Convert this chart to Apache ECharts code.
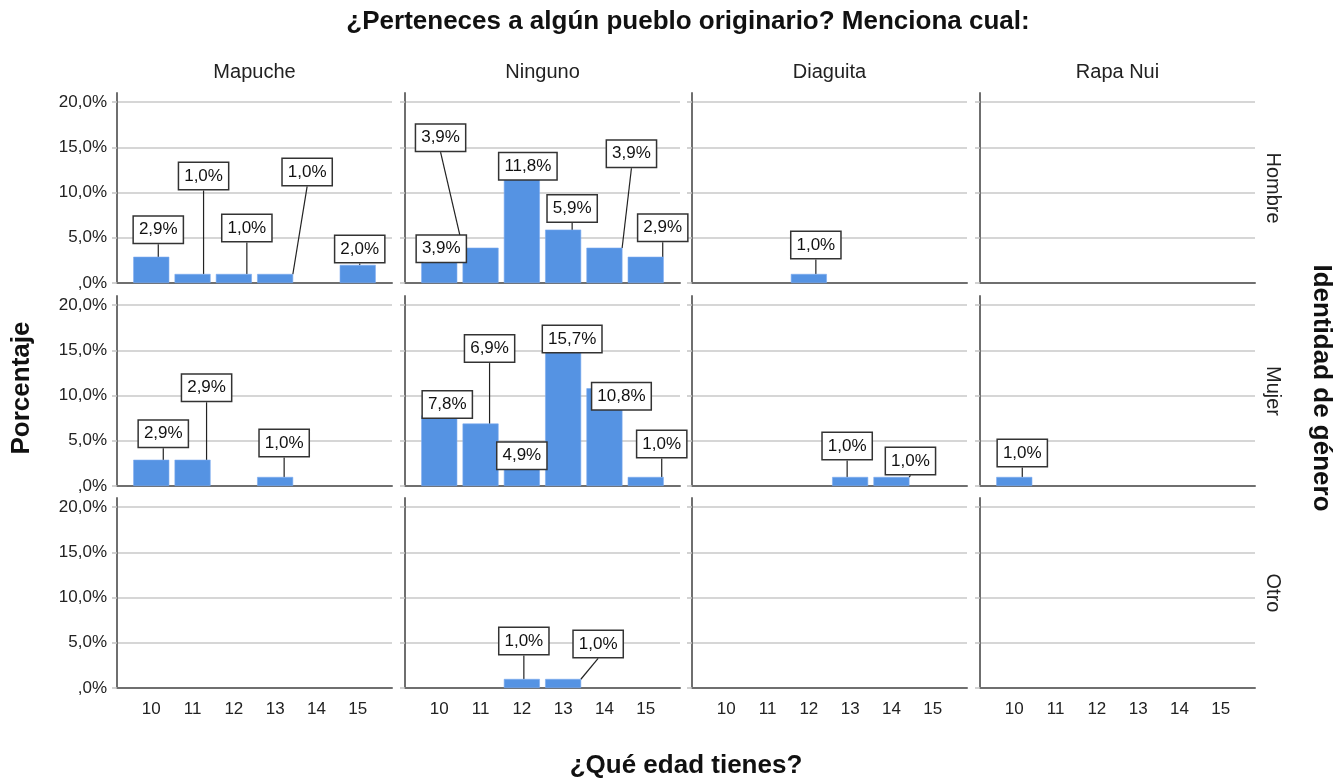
<!DOCTYPE html>
<html><head><meta charset="utf-8">
<script src="https://cdn.jsdelivr.net/npm/echarts@6/dist/echarts.min.js"></script>
<style>html,body{margin:0;padding:0;background:#fff}#c{width:1336px;height:781px}</style>
</head><body><div id="c"></div><script>
// ---- data ----
const ages = [10, 11, 12, 13, 14, 15];
const pueblos = ['Mapuche', 'Ninguno', 'Diaguita', 'Rapa Nui'];
const generos = ['Hombre', 'Mujer', 'Otro'];
const yTicks = [0, 5, 10, 15, 20];

const hombreMapuche  = [2.9, 1.0, 1.0, 1.0, null, 2.0];
const hombreNinguno  = [3.9, 3.9, 11.8, 5.9, 3.9, 2.9];
const hombreDiaguita = [null, null, 1.0, null, null, null];
const hombreRapaNui  = [null, null, null, null, null, null];
const mujerMapuche   = [2.9, 2.9, null, 1.0, null, null];
const mujerNinguno   = [7.8, 6.9, 4.9, 15.7, 10.8, 1.0];
const mujerDiaguita  = [null, null, null, 1.0, 1.0, null];
const mujerRapaNui   = [1.0, null, null, null, null, null];
const otroMapuche    = [null, null, null, null, null, null];
const otroNinguno    = [null, null, 1.0, 1.0, null, null];
const otroDiaguita   = [null, null, null, null, null, null];
const otroRapaNui    = [null, null, null, null, null, null];

const values = [
  [hombreMapuche, hombreNinguno, hombreDiaguita, hombreRapaNui],
  [mujerMapuche, mujerNinguno, mujerDiaguita, mujerRapaNui],
  [otroMapuche, otroNinguno, otroDiaguita, otroRapaNui]
];

// ---- layout (label box centre offset from bar top centre, px) ----
const labelOffsets = [
  [
    [[7,-27],[11,-98],[13,-46],[32,-102],null,[2,-16]],
    [[2,1],[-40,-110],[6,-10],[9,-21],[27,-94],[17,-29]],
    [null,null,[7,-29],null,null,null],
    [null,null,null,null,null,null]
  ],
  [
    [[12,-26],[14,-72],null,[9,-34],null,null],
    [[8,-11],[9,-75],[0,14],[9,-5],[17,8],[16,-33]],
    [null,null,null,[-3,-31],[19,-16],null],
    [[8,-24],null,null,null,null,null]
  ],
  [
    [null,null,null,null,null,null],
    [null,null,[2,-38],[35,-35],null,null],
    [null,null,null,null,null,null],
    [null,null,null,null,null,null]
  ]
];

const colLeft = [117, 405, 692, 980];
const colW = 275;
const rowTop = [93, 296, 498];
const rowH = 190;
const FONT = 'Liberation Sans, Arial, sans-serif';
const barColor = '#5593e3';

function pct(v) {
  return v === 0 ? ',0%' : v.toFixed(1).replace('.', ',') + '%';
}

const grid = [], xAxis = [], yAxis = [], series = [];
let idx = 0;
for (let r = 0; r < generos.length; r++) {
  for (let c = 0; c < pueblos.length; c++) {
    grid.push({left: colLeft[c], top: rowTop[r], width: colW, height: rowH, containLabel: false});
    xAxis.push({
      gridIndex: idx, type: 'value', min: 9.17, max: 15.83,
      axisLine: {show: true, onZero: false, lineStyle: {color: '#6f6f6f', width: 2}},
      axisTick: {show: false},
      splitLine: {show: false},
      axisLabel: {show: r === 2, customValues: ages, margin: 13, color: '#222',
        fontSize: 17, fontFamily: FONT, formatter: v => String(v)}
    });
    yAxis.push({
      gridIndex: idx, type: 'value', min: 0, max: 21,
      axisLine: {show: true, lineStyle: {color: '#6f6f6f', width: 2}},
      axisTick: {show: true, customValues: yTicks, length: 5, lineStyle: {color: '#c4c4c4', width: 1.5}},
      splitLine: {show: true, lineStyle: {color: '#c9c9c9', width: 1.5}},
      axisLabel: {show: c === 0, customValues: yTicks, margin: 10, color: '#222',
        fontSize: 17, fontFamily: FONT, formatter: v => pct(v)}
    });
    const vals = values[r][c];
    const offs = labelOffsets[r][c];
    const data = [], dataOffs = [];
    ages.forEach((a, i) => {
      if (vals[i] != null) { data.push([a, vals[i]]); dataOffs.push(offs[i] || [0, -20]); }
    });
    series.push({
      type: 'bar', xAxisIndex: idx, yAxisIndex: idx, data: data,
      barWidth: 36,
      itemStyle: {color: barColor, borderColor: '#7aaaf0', borderWidth: 0.6},
      label: {
        show: true, position: 'top',
        formatter: p => pct(p.value[1]),
        fontSize: 17, fontFamily: FONT, color: '#111',
        backgroundColor: '#fff', borderColor: '#333', borderWidth: 1.5,
        padding: [5, 5, 4, 5]
      },
      labelLine: {show: true, lineStyle: {color: '#222', width: 1.2}},
      labelLayout: function (p) {
        const o = dataOffs[p.dataIndex];
        return {
          x: p.rect.x + p.rect.width / 2 + o[0],
          y: p.rect.y + o[1],
          align: 'center', verticalAlign: 'middle'
        };
      },
      animation: false
    });
    idx++;
  }
}

const graphic = [];
graphic.push({type: 'text', x: 688, y: 22,
  style: {text: '¿Perteneces a algún pueblo originario? Menciona cual:', font: 'bold 26px ' + FONT, fill: '#111', align: 'center', verticalAlign: 'middle'}});
graphic.push({type: 'text', x: 686, y: 766,
  style: {text: '¿Qué edad tienes?', font: 'bold 26px ' + FONT, fill: '#111', align: 'center', verticalAlign: 'middle'}});
graphic.push({type: 'text', x: 22, y: 388, rotation: Math.PI / 2,
  style: {text: 'Porcentaje', font: 'bold 26px ' + FONT, fill: '#111', align: 'center', verticalAlign: 'middle'}});
graphic.push({type: 'text', x: 1321, y: 388, rotation: -Math.PI / 2,
  style: {text: 'Identidad de género', font: 'bold 26px ' + FONT, fill: '#111', align: 'center', verticalAlign: 'middle'}});
for (let c = 0; c < pueblos.length; c++) {
  graphic.push({type: 'text', x: colLeft[c] + colW / 2, y: 72,
    style: {text: pueblos[c], font: '20px ' + FONT, fill: '#222', align: 'center', verticalAlign: 'middle'}});
}
for (let r = 0; r < generos.length; r++) {
  graphic.push({type: 'text', x: 1273, y: rowTop[r] + rowH / 2, rotation: -Math.PI / 2,
    style: {text: generos[r], font: '20px ' + FONT, fill: '#222', align: 'center', verticalAlign: 'middle'}});
}

const chart = echarts.init(document.getElementById('c'), null, {renderer: 'canvas'});
chart.setOption({animation: false, backgroundColor: '#fff', grid, xAxis, yAxis, series, graphic});
</script></body></html>
